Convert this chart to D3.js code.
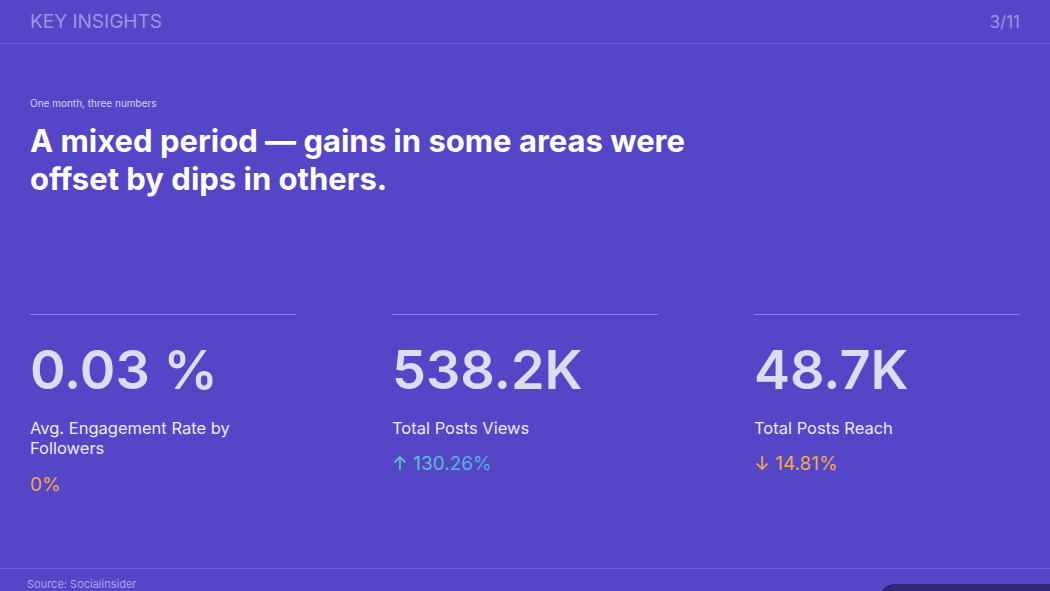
<!DOCTYPE html>
<html><head><meta charset="utf-8">
<script src="https://cdn.jsdelivr.net/npm/d3@7"></script>
<style>body{margin:0;background:#5446c6;overflow:hidden}</style>
</head><body>
<svg id="slide"></svg>
<script>
// KPI values
const metrics = ["Avg. Engagement Rate by|Followers", "Total Posts Views", "Total Posts Reach"];
const values = ["0.03 %", "538.2K", "48.7K"];
const changes = [0, 130.26, -14.81];

const W = 1050, H = 591;
const svg = d3.select("#slide").attr("width", W).attr("height", H)
  .style("font-family", "Inter, 'Noto Sans', sans-serif");

const defs = svg.append("defs");
const grad = defs.append("linearGradient").attr("id", "up");
grad.append("stop").attr("offset", "0%").attr("stop-color", "#5ed0c0");
grad.append("stop").attr("offset", "100%").attr("stop-color", "#5aa6e6");

svg.append("rect").attr("width", W).attr("height", H).attr("fill", "#5446c6");

// header
svg.append("text").attr("x", 30).attr("y", 28).attr("font-size", 19)
  .attr("fill", "#9d95e4").text("KEY INSIGHTS");
svg.append("text").attr("x", 1020).attr("y", 28).attr("font-size", 17)
  .attr("text-anchor", "end").attr("fill", "#9d95e4").text("3/11");
svg.append("line").attr("x1", 0).attr("x2", W).attr("y1", 43.5).attr("y2", 43.5)
  .attr("stroke", "#7066d4");

svg.append("text").attr("x", 30).attr("y", 107).attr("font-size", 10)
  .attr("fill", "#d8d4f4").text("One month, three numbers");
const title = svg.append("text").attr("x", 30).attr("font-size", 31)
  .attr("font-weight", 700).attr("fill", "#ffffff");
title.append("tspan").attr("x", 30).attr("y", 152).text("A mixed period — gains in some areas were");
title.append("tspan").attr("x", 30).attr("y", 190).text("offset by dips in others.");

// columns
const x = d3.scalePoint().domain(d3.range(metrics.length)).range([30, 754]);

const col = svg.selectAll("g.kpi").data(metrics).join("g")
  .attr("class", "kpi").attr("transform", (d, i) => `translate(${x(i)},0)`);

col.append("line").attr("x1", 0).attr("x2", 266).attr("y1", 314.5).attr("y2", 314.5)
  .attr("stroke", "#8a82e0");
col.append("text").attr("y", 389).attr("font-size", 54).attr("font-weight", 600)
  .attr("fill", "#dedcf2").text((d, i) => values[i]);
col.append("text").attr("font-size", 16.5).attr("fill", "#ecebfa")
  .each(function(d) {
    d.split("|").forEach((t, j) => d3.select(this).append("tspan")
      .attr("x", 0).attr("y", 434 + j * 20).text(t));
  });
col.append("text")
  .attr("y", (d, i) => metrics[i].includes("|") ? 491 : 470)
  .attr("font-size", 19)
  .attr("fill", (d, i) => changes[i] > 0 ? "url(#up)" : "#f2a84e")
  .text((d, i) => {
    const c = changes[i];
    if (c === 0) return "0%";
    return (c > 0 ? "↑ " : "↓ ") + Math.abs(c).toFixed(2) + "%";
  });

// footer
svg.append("line").attr("x1", 0).attr("x2", W).attr("y1", 568.5).attr("y2", 568.5)
  .attr("stroke", "#6c62d2");
svg.append("text").attr("x", 27).attr("y", 588).attr("font-size", 11)
  .attr("fill", "#aaa4e6").text("Source: Socialinsider");
svg.append("rect").attr("x", 880).attr("y", 584).attr("width", 200).attr("height", 30)
  .attr("rx", 14).attr("fill", "#2e2878");
</script>
</body></html>
